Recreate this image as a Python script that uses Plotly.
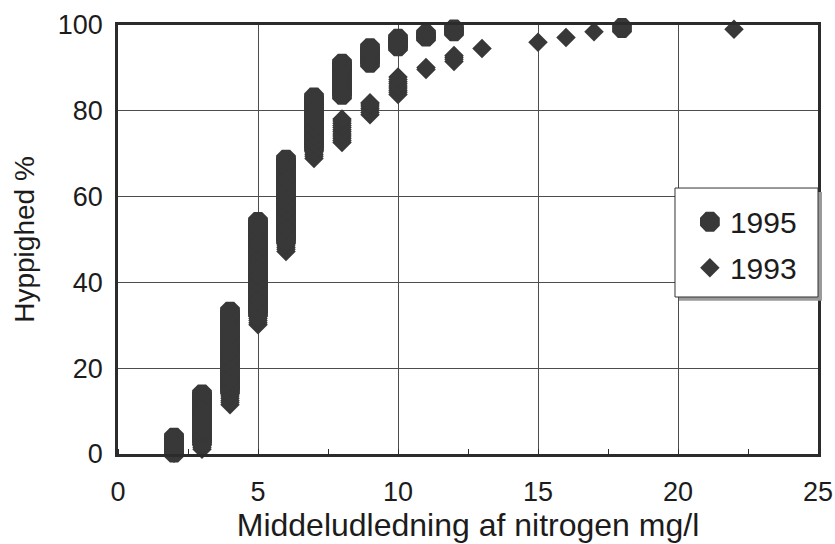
import plotly.graph_objects as go

# Mean nitrogen leaching (mg/l) and the frequencies (%) observed at each level
x_1995 = [2, 3, 4, 5, 6, 7, 8, 9, 10, 11, 12, 18]
freq_1995 = [
    [0.3, 1.1, 1.9, 2.7, 3.4, 3.8],
    [3.0, 3.8, 4.6, 5.4, 6.2, 7.0, 7.8, 8.6, 9.4, 10.2, 11.0, 11.8, 12.6, 13.3, 13.9],
    [15.0, 15.8, 16.6, 17.4, 18.2, 19.0, 19.8, 20.6, 21.4, 22.2, 23.0, 23.8, 24.6, 25.4,
     26.2, 27.0, 27.8, 28.6, 29.4, 30.2, 31.0, 31.8, 32.6, 33.2],
    [33.0, 33.8, 34.6, 35.4, 36.2, 37.0, 37.8, 38.6, 39.4, 40.2, 41.0, 41.8, 42.6, 43.4,
     44.2, 45.0, 45.8, 46.6, 47.4, 48.2, 49.0, 49.8, 50.6, 51.4, 52.2, 53.0, 53.6, 54.1],
    [50.0, 50.8, 51.6, 52.4, 53.2, 54.0, 54.8, 55.6, 56.4, 57.2, 58.0, 58.8, 59.6, 60.4,
     61.2, 62.0, 62.8, 63.6, 64.4, 65.2, 66.0, 66.8, 67.5, 68.1, 68.6],
    [71.5, 72.3, 73.1, 73.9, 74.7, 75.5, 76.3, 77.1, 77.9, 78.7, 79.5, 80.3, 81.1, 81.8,
     82.5, 83.1],
    [83.7, 84.5, 85.3, 86.1, 86.9, 87.7, 88.5, 89.2, 89.9, 90.5, 91.0],
    [91.2, 92.0, 92.7, 93.4, 94.0, 94.6],
    [95.0, 95.6, 96.2, 96.8],
    [97.3, 97.8],
    [98.5, 99.0],
    [99.3],
]

x_1993 = [2, 3, 4, 5, 6, 7, 8, 9, 10, 11, 12, 13, 15, 16, 17, 22]
freq_1993 = [
    [0.2, 1.0, 1.8],
    [1.1, 1.6, 2.1, 2.6, 3.1, 4.4, 5.6, 6.8, 8.0, 9.2, 10.4],
    [11.5, 12.0, 12.5, 13.0, 13.5, 14.0, 14.5, 15.5, 17.0, 18.6, 20.3, 22.0, 23.8, 25.7,
     27.6, 29.4],
    [30.1, 30.6, 31.1, 31.6, 32.1, 32.6, 33.1, 34.3, 36.0, 37.8, 39.6, 41.5, 43.4, 45.3,
     47.3, 49.2],
    [47.2, 47.7, 48.2, 48.7, 49.2, 49.7, 51.0, 52.8, 54.6, 56.5, 58.4, 60.3, 62.2, 64.0],
    [68.9, 69.4, 69.9, 70.4, 70.9, 71.4, 72.4, 74.1, 75.9, 77.6, 79.3],
    [72.6, 73.1, 73.6, 74.1, 74.6, 75.1, 75.6, 76.1, 76.6, 77.1, 77.6, 78.1],
    [79.1, 79.6, 80.1, 80.6, 81.1, 81.6, 81.9],
    [83.8, 84.3, 84.8, 85.3, 85.8, 86.3, 86.8, 87.3, 87.9],
    [89.6, 90.1],
    [91.5, 92.0, 92.5, 92.9],
    [94.5],
    [96.0],
    [97.1],
    [98.4],
    [99.0],
]

x_ticks = [0, 5, 10, 15, 20, 25]
y_ticks = [0, 20, 40, 60, 80, 100]

INK = "#383838"
TEXT = "#1c1c1c"
FONT = "Liberation Sans, Arial, sans-serif"


def flatten(levels, groups):
    xs, ys = [], []
    for lvl, vals in zip(levels, groups):
        xs.extend([lvl] * len(vals))
        ys.extend(vals)
    return xs, ys


x95, y95 = flatten(x_1995, freq_1995)
x93, y93 = flatten(x_1993, freq_1993)

fig = go.Figure()
fig.add_trace(go.Scatter(
    x=x95, y=y95, mode="markers", name="1995", legendgroup="a",
    marker=dict(symbol="octagon", size=16, color=INK, line=dict(width=5, color=INK)),
    cliponaxis=False,
))
fig.add_trace(go.Scatter(
    x=x93, y=y93, mode="markers", name="1993", legendgroup="b",
    marker=dict(symbol="diamond", size=15, color=INK, line=dict(width=0)),
    cliponaxis=False,
))

# legend frame with a drop shadow
fig.add_shape(type="rect", xref="paper", yref="paper",
              x0=0.8014, x1=1.0057, y0=0.357, y1=0.611,
              fillcolor="#9a9a9a", line=dict(width=0), layer="above")
fig.add_shape(type="rect", xref="paper", yref="paper",
              x0=0.7957, x1=1.0, y0=0.366, y1=0.620,
              fillcolor="white", line=dict(width=1, color="#333333"), layer="above")

axis_common = dict(
    showgrid=True, gridcolor="#4d4d4d", gridwidth=1,
    showline=True, linecolor="#2b2b2b", linewidth=2.5, mirror=True,
    zeroline=False, ticks="", automargin=False,
    tickfont=dict(family=FONT, size=27, color=TEXT),
)

fig.update_xaxes(
    **axis_common,
    range=[0, 25], tickvals=x_ticks, ticklabelstandoff=12,
    minor=dict(ticks="inside", ticklen=5, tickwidth=1, tickcolor="#2b2b2b", dtick=2.5, tick0=0, showgrid=False),
    title=dict(text="Middeludledning af nitrogen mg/l", font=dict(family=FONT, size=32, color=TEXT), standoff=4),
)
fig.update_yaxes(
    **axis_common,
    range=[0, 100], tickvals=y_ticks, ticklabelstandoff=7,
    title=dict(text="Hyppighed %", font=dict(family=FONT, size=28, color=TEXT), standoff=15),
)

fig.update_layout(
    width=835, height=544,
    margin=dict(l=118, r=17, t=25, b=90),
    paper_bgcolor="white", plot_bgcolor="white",
    font=dict(family=FONT, color=TEXT),
    showlegend=True,
    legend=dict(
        x=0.817, xanchor="left", y=0.602, yanchor="top",
        bgcolor="rgba(0,0,0,0)", borderwidth=0,
        traceorder="grouped", tracegroupgap=4,
        font=dict(family=FONT, size=30, color=TEXT),
    ),
)

fig.write_html("out.html")
